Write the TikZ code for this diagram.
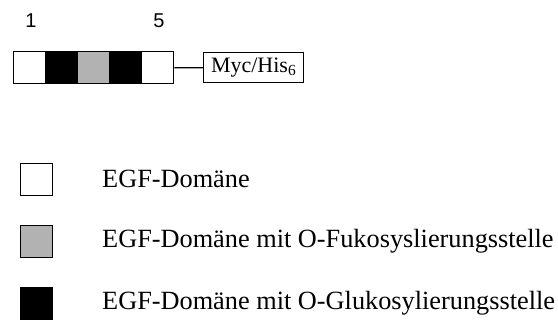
\documentclass[tikz,border=0pt]{standalone}
\usepackage{fontspec}
\setmainfont{Liberation Serif}
\newfontfamily\numfont{Liberation Sans}
\begin{document}
\begin{tikzpicture}[x=1pt,y=-1pt,
  egfbox/.style={draw=black,line width=1.4pt,minimum width=32pt,minimum height=32pt,inner sep=0pt,anchor=north west},
  tagbox/.style={draw=black,line width=1.3pt,minimum width=100pt,minimum height=30pt,inner sep=0pt,anchor=north west,font=\fontsize{22}{25}\selectfont},
  legtext/.style={anchor=west,inner sep=0pt,font=\fontsize{26.3}{30}\selectfont},
  numlabel/.style={inner sep=0pt,font=\numfont\fontsize{20}{23}\selectfont}]
\useasboundingbox (0,0) rectangle (558,322);
% construct: five EGF domains followed by the tag
\node[egfbox,fill=white] (d1) at (13,51) {};
\node[egfbox,fill=black] (d2) at (45,51) {};
\node[egfbox,fill=black!30] (d3) at (77,51) {};
\node[egfbox,fill=black] (d4) at (109,51) {};
\node[egfbox,fill=white] (d5) at (141,51) {};
\node[tagbox] (tag) at (203,52) {Myc/His\textsubscript{6}};
\draw[line width=1.3pt] (d5.east) -- (tag.west);
% domain numbering
\node[numlabel] (n1) at (31,21) {1};
\node[numlabel] (n5) at (159,21) {5};
% legend
\node[egfbox,fill=white] (l1) at (20,163) {};
\node[egfbox,fill=black!30] (l2) at (20,225) {};
\node[egfbox,fill=black] (l3) at (20,287) {};
\node[legtext] (t1) at (102,179) {EGF-Domäne};
\node[legtext] (t2) at (102,241) {EGF-Domäne mit O-Fukosyslierungsstelle};
\node[legtext] (t3) at (102,303) {EGF-Domäne mit O-Glukosylierungsstelle};
\end{tikzpicture}
\end{document}
